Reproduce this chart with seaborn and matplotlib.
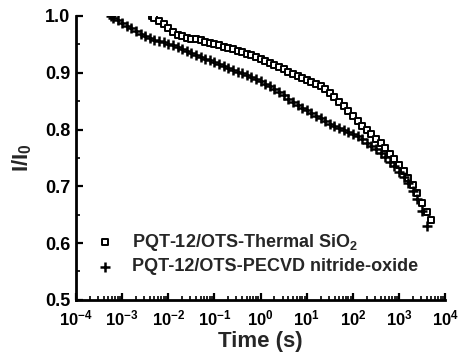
import numpy as np
import pandas as pd
import matplotlib
matplotlib.use("Agg")
import matplotlib.pyplot as plt
import seaborn as sns
from matplotlib.ticker import LogLocator, LogFormatterMathtext, MultipleLocator, NullFormatter, FormatStrFormatter

# ---- data (log10 of time in s, normalised current) ----
thermal_logt = [-2.35, -2.3, -2.2, -2.1, -2.0, -1.9, -1.8, -1.7, -1.6, -1.5, -1.4, -1.3, -1.2, -1.1,
                -1.0, -0.9, -0.8, -0.7, -0.6, -0.5, -0.4, -0.3, -0.2, -0.1, 0.0, 0.1, 0.2, 0.3,
                0.4, 0.5, 0.6, 0.7, 0.8, 0.9, 1.0, 1.1, 1.2, 1.3, 1.4, 1.5, 1.6, 1.7, 1.8, 1.9,
                2.0, 2.1, 2.2, 2.3, 2.4, 2.5, 2.6, 2.7, 2.8, 2.9, 3.0, 3.1, 3.2, 3.3, 3.4, 3.5,
                3.6, 3.7]
thermal_I = [1.000, 0.997, 0.991, 0.985, 0.978, 0.972, 0.967, 0.964, 0.961, 0.960, 0.959, 0.958,
             0.955, 0.953, 0.950, 0.948, 0.946, 0.943, 0.941, 0.938, 0.936, 0.933, 0.931, 0.928,
             0.925, 0.921, 0.917, 0.913, 0.910, 0.906, 0.902, 0.898, 0.894, 0.891, 0.888, 0.884,
             0.880, 0.876, 0.871, 0.865, 0.857, 0.849, 0.841, 0.832, 0.823, 0.815, 0.807, 0.800,
             0.792, 0.784, 0.776, 0.767, 0.757, 0.748, 0.738, 0.727, 0.715, 0.702, 0.688, 0.671,
             0.655, 0.641]

pecvd_logt = [-3.25, -3.2, -3.1, -3.0, -2.9, -2.8, -2.7, -2.6, -2.5, -2.4, -2.3, -2.2, -2.1, -2.0,
              -1.9, -1.8, -1.7, -1.6, -1.5, -1.4, -1.3, -1.2, -1.1, -1.0, -0.9, -0.8, -0.7, -0.6,
              -0.5, -0.4, -0.3, -0.2, -0.1, 0.0, 0.1, 0.2, 0.3, 0.4, 0.5, 0.6, 0.7, 0.8, 0.9,
              1.0, 1.1, 1.2, 1.3, 1.4, 1.5, 1.6, 1.7, 1.8, 1.9, 2.0, 2.1, 2.2, 2.3, 2.4, 2.5,
              2.6, 2.7, 2.8, 2.9, 3.0, 3.1, 3.2, 3.3, 3.4, 3.5, 3.6]
pecvd_I = [1.000, 0.997, 0.993, 0.988, 0.983, 0.978, 0.973, 0.969, 0.965, 0.961, 0.958, 0.956,
           0.954, 0.951, 0.948, 0.945, 0.941, 0.938, 0.935, 0.931, 0.928, 0.925, 0.922, 0.919,
           0.916, 0.912, 0.909, 0.905, 0.902, 0.899, 0.896, 0.892, 0.889, 0.885, 0.881, 0.876,
           0.871, 0.866, 0.860, 0.854, 0.849, 0.843, 0.838, 0.834, 0.829, 0.824, 0.820, 0.815,
           0.810, 0.806, 0.802, 0.799, 0.795, 0.792, 0.788, 0.783, 0.777, 0.771, 0.765, 0.758,
           0.751, 0.743, 0.735, 0.726, 0.716, 0.705, 0.692, 0.677, 0.656, 0.630]

labels = ["PQT-12/OTS-Thermal SiO$_2$", "PQT-12/OTS-PECVD nitride-oxide"]
x_label = "Time (s)"
y_label = "I/I$_0$"

sns.set_theme(style="ticks")
plt.rcParams["font.family"] = ["Liberation Sans", "DejaVu Sans"]
plt.rcParams["font.weight"] = "bold"
plt.rcParams["axes.labelweight"] = "bold"
plt.rcParams["mathtext.fontset"] = "custom"
plt.rcParams["mathtext.rm"] = "Liberation Sans:bold"
plt.rcParams["mathtext.it"] = "Liberation Sans:bold"
plt.rcParams["mathtext.bf"] = "Liberation Sans:bold"
plt.rcParams["mathtext.default"] = "rm"

df_t = pd.DataFrame({"t": 10 ** np.array(thermal_logt), "I": thermal_I})
df_p = pd.DataFrame({"t": 10 ** np.array(pecvd_logt), "I": pecvd_I})

fig = plt.figure(figsize=(4.58, 3.63), dpi=100)
ax = fig.add_axes([0.166, 0.174, 0.806, 0.782])

sns.scatterplot(data=df_t, x="t", y="I", ax=ax, marker="s", s=22,
                facecolor="white", edgecolor="black", linewidth=1.4, label=labels[0], zorder=3)
sns.scatterplot(data=df_p, x="t", y="I", ax=ax, marker="+", s=42,
                color="black", linewidth=1.8, label=labels[1], zorder=3)

ax.set_xscale("log")
ax.set_xlim(1e-4, 1e4)
ax.set_ylim(0.5, 1.0)
ax.xaxis.set_major_locator(LogLocator(base=10, numticks=20))
ax.xaxis.set_major_formatter(LogFormatterMathtext())
ax.xaxis.set_minor_locator(LogLocator(base=10, subs=np.arange(2, 10), numticks=20))
ax.xaxis.set_minor_formatter(NullFormatter())
ax.yaxis.set_major_locator(MultipleLocator(0.1))
ax.yaxis.set_minor_locator(MultipleLocator(0.05))
ax.yaxis.set_major_formatter(FormatStrFormatter("%.1f"))

for s in ["top", "right"]:
    ax.spines[s].set_visible(False)
for s in ["left", "bottom"]:
    ax.spines[s].set_linewidth(2.0)
    ax.spines[s].set_color("black")

ax.tick_params(which="major", direction="in", length=5, width=1.6, colors="black")
ax.tick_params(axis="x", which="major", pad=6, labelsize=12)
ax.tick_params(axis="y", which="major", pad=4, labelsize=13)
ax.tick_params(which="minor", direction="in", length=3, width=1.2, colors="black")

ax.set_xlabel(x_label, fontsize=16, fontweight="bold", labelpad=2)
ax.set_ylabel(y_label, fontsize=16, fontweight="bold", labelpad=8)

leg = ax.legend(loc="lower left", bbox_to_anchor=(0.0, 0.035), frameon=False,
                fontsize=13, handletextpad=0.7, labelspacing=0.3, borderpad=0.3,
                handlelength=1.6)
for h in leg.legend_handles:
    h.set_edgecolor("black")

fig.savefig("out.png", dpi=100)
